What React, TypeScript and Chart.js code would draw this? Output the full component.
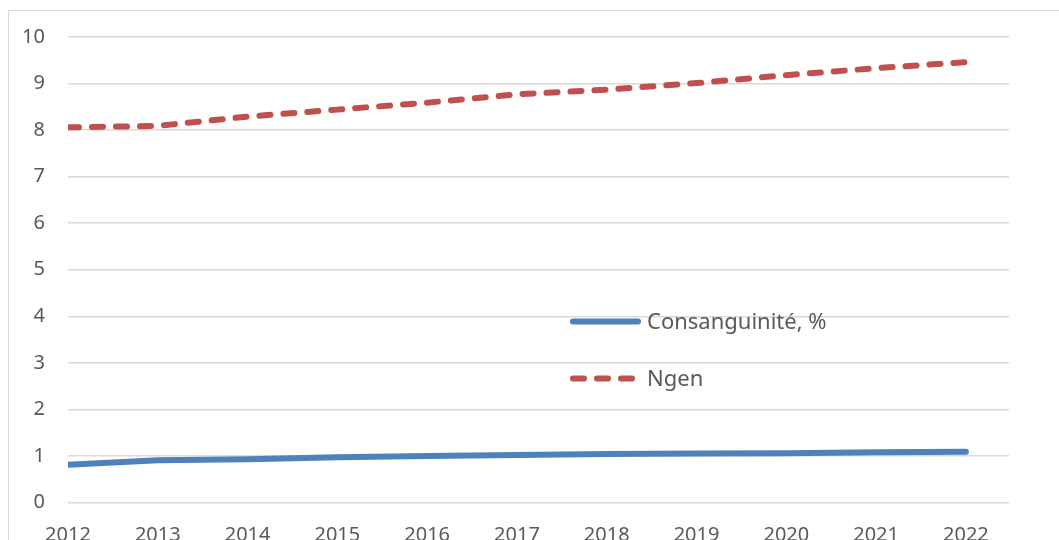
import React, { useEffect, useRef } from "react";
import { Chart, registerables } from "chart.js";

Chart.register(...registerables);

const years = [2012, 2013, 2014, 2015, 2016, 2017, 2018, 2019, 2020, 2021, 2022];
const consanguinite = [0.81, 0.91, 0.93, 0.97, 1.0, 1.02, 1.04, 1.05, 1.06, 1.08, 1.09];
const ngen = [8.06, 8.09, 8.29, 8.44, 8.59, 8.77, 8.87, 9.01, 9.18, 9.33, 9.46];
const seriesNames = ["Consanguinité, %", "Ngen"];
const yTicks = [0, 1, 2, 3, 4, 5, 6, 7, 8, 9, 10];

const FONT = "'Noto Sans', sans-serif";
const TEXT = "#595959";
const GRID = "#d9d9d9";

const legendPlugin = {
  id: "innerLegend",
  afterDraw(chart: any) {
    const ctx = chart.ctx;
    const rows = [321.5, 378.5];
    chart.data.datasets.forEach((ds: any, i: number) => {
      const y = rows[i];
      ctx.save();
      ctx.strokeStyle = ds.borderColor;
      ctx.lineWidth = ds.borderWidth;
      ctx.lineCap = "round";
      ctx.setLineDash(ds.borderDash || []);
      ctx.beginPath();
      ctx.moveTo(573, y);
      ctx.lineTo(i === 0 ? 638 : 632, y);
      ctx.stroke();
      ctx.setLineDash([]);
      ctx.fillStyle = TEXT;
      ctx.font = `22px ${FONT}`;
      ctx.textBaseline = "middle";
      ctx.textAlign = "left";
      ctx.fillText(ds.label, 647, y + 1);
      ctx.restore();
    });
  },
};

export default function App() {
  const ref = useRef<HTMLCanvasElement>(null);
  useEffect(() => {
    if (!ref.current) return;
    const chart = new Chart(ref.current, {
      type: "line",
      data: {
        datasets: [
          {
            label: seriesNames[0],
            data: years.map((x, i) => ({ x, y: consanguinite[i] })),
            borderColor: "#4F81BD",
            backgroundColor: "#4F81BD",
            borderWidth: 6,
            borderCapStyle: "round",
            pointRadius: 0,
            tension: 0,
          },
          {
            label: seriesNames[1],
            data: years.map((x, i) => ({ x, y: ngen[i] })),
            borderColor: "#C0504D",
            backgroundColor: "#C0504D",
            borderWidth: 6,
            borderDash: [11, 13],
            borderCapStyle: "round",
            pointRadius: 0,
            tension: 0,
          },
        ],
      },
      options: {
        animation: false,
        responsive: false,
        maintainAspectRatio: false,
        layout: { padding: { top: 37, right: 50, left: 0, bottom: 0 } },
        plugins: { legend: { display: false }, tooltip: { enabled: false } },
        scales: {
          x: {
            type: "linear",
            min: years[0],
            max: years[years.length - 1] + 0.48,
            grid: { display: false, drawTicks: false },
            border: { display: false },
            afterBuildTicks: (scale: any) => {
              scale.ticks = years.map((v) => ({ value: v }));
            },
            ticks: {
              includeBounds: false,
              autoSkip: false,
              maxRotation: 0,
              padding: 21,
              color: TEXT,
              font: { family: FONT, size: 20 },
              callback: (v: any) => String(v),
            },
            afterFit: (scale: any) => {
              scale.height = 37.5;
            },
          },
          y: {
            min: 0,
            max: 10,
            afterBuildTicks: (scale: any) => {
              scale.ticks = yTicks.map((v) => ({ value: v }));
            },
            grid: { color: GRID, lineWidth: 1.5, drawTicks: false },
            border: { display: false },
            ticks: {
              padding: 23,
              color: TEXT,
              font: { family: FONT, size: 20 },
              callback: (v: any) => String(v),
            },
            afterFit: (scale: any) => {
              scale.width = 68;
            },
          },
        },
      },
      plugins: [legendPlugin],
    });
    return () => chart.destroy();
  }, []);

  return (
    <div
      style={{
        position: "fixed",
        left: 0,
        top: 0,
        width: 1059,
        height: 540,
        overflow: "hidden",
        background: "#fff",
      }}
    >
      <div
        style={{
          position: "absolute",
          left: 8,
          top: 10,
          width: 1200,
          height: 700,
          border: `1.5px solid ${GRID}`,
        }}
      />
      <canvas
        ref={ref}
        width={1059}
        height={540}
        style={{ position: "absolute", left: 0, top: 0, width: 1059, height: 540 }}
      />
    </div>
  );
}
